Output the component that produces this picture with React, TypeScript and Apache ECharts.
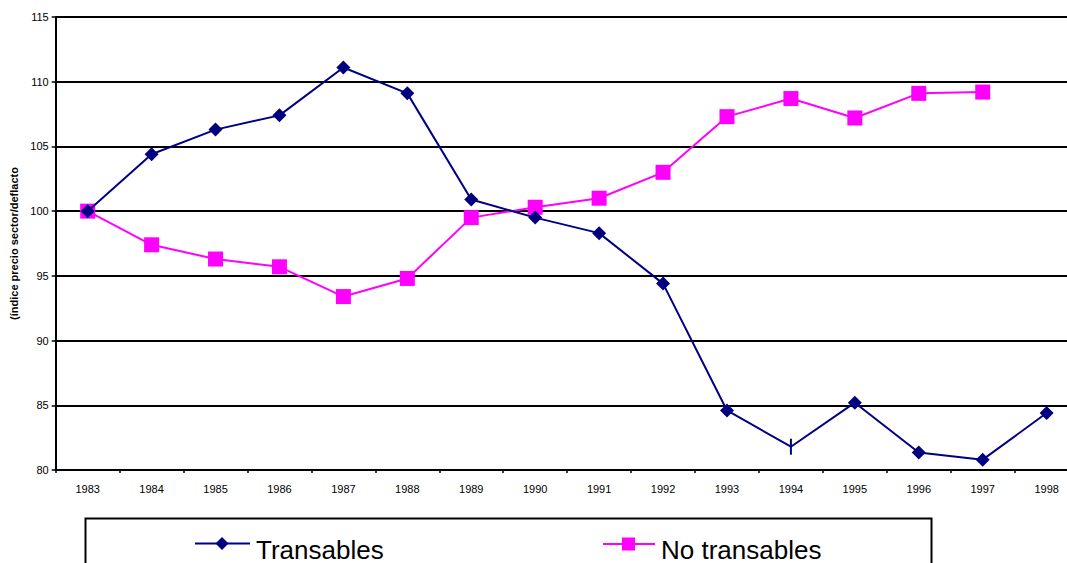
import React, { useEffect, useRef } from "react";
import * as echarts from "echarts";

const years = ["1983","1984","1985","1986","1987","1988","1989","1990","1991","1992","1993","1994","1995","1996","1997","1998"];
const transables = [100, 104.4, 106.3, 107.4, 111.1, 109.1, 100.9, 99.5, 98.3, 94.4, 84.6, 81.8, 85.2, 81.35, 80.8, 84.4];
const noTransables: (number | null)[] = [100, 97.4, 96.3, 95.7, 93.4, 94.8, 99.5, 100.3, 101.0, 103.0, 107.3, 108.7, 107.2, 109.1, 109.2, null];
const seriesNames = ["Transables", "No transables"];
const yTitle = "(índice precio sector/deflacto";

const NAVY = "#000080";
const MAGENTA = "#FF00FF";

export default function App() {
  const ref = useRef<HTMLDivElement>(null);
  useEffect(() => {
    const chart = echarts.init(ref.current!, null, { renderer: "svg" });
    const font = "'Liberation Sans', Arial, sans-serif";
    const legendFont = { fontSize: 26, fontFamily: font, fill: "#000" };
    chart.setOption({
      animation: false,
      backgroundColor: "#ffffff",
      textStyle: { fontFamily: font },
      grid: { left: 55.7, top: 17, width: 1022.9, height: 453, containLabel: false, outerBoundsMode: "none" },
      graphic: [
        { type: "rect", shape: { x: 85.5, y: 518.5, width: 846, height: 80 }, style: { fill: "none", stroke: "#000", lineWidth: 2 }, silent: true },
        { type: "line", shape: { x1: 195, y1: 543.5, x2: 250, y2: 543.5 }, style: { stroke: NAVY, lineWidth: 2 }, silent: true },
        { type: "polygon", shape: { points: [[222, 537], [228.5, 543.5], [222, 550], [215.5, 543.5]] }, style: { fill: NAVY }, silent: true },
        { type: "text", x: 256, y: 550, style: { text: seriesNames[0], ...legendFont, verticalAlign: "middle", align: "left" }, silent: true },
        { type: "line", shape: { x1: 603, y1: 544, x2: 655, y2: 544 }, style: { stroke: MAGENTA, lineWidth: 2 }, silent: true },
        { type: "rect", shape: { x: 622, y: 537.5, width: 13, height: 13 }, style: { fill: MAGENTA }, silent: true },
        { type: "text", x: 661, y: 550, style: { text: seriesNames[1], ...legendFont, verticalAlign: "middle", align: "left" }, silent: true },
      ],
      xAxis: {
        type: "category",
        data: years,
        boundaryGap: true,
        axisLine: { lineStyle: { color: "#000", width: 2 } },
        axisTick: { show: true, interval: 0, length: 3, lineStyle: { color: "#000", width: 1.5 } },
        axisLabel: { color: "#000", fontSize: 11, margin: 13, interval: 0, fontFamily: font },
        splitLine: { show: false },
      },
      yAxis: {
        type: "value",
        min: 80, max: 115, interval: 5,
        name: yTitle,
        nameLocation: "middle",
        nameGap: 36,
        nameTextStyle: { fontSize: 11, fontWeight: "bold", color: "#000", fontFamily: font },
        axisLine: { show: true, lineStyle: { color: "#000", width: 2 } },
        axisTick: { show: true, length: 4, lineStyle: { color: "#000", width: 1.5 } },
        axisLabel: { color: "#000", fontSize: 11, margin: 7, fontFamily: font },
        splitLine: { show: true, lineStyle: { color: "#000", width: 2 } },
      },
      series: [
        {
          name: seriesNames[0],
          type: "line",
          data: transables.map((v, i) => (i === 11 ? { value: v, symbol: "rect", symbolSize: [2, 16] } : v)),
          symbol: "diamond",
          symbolSize: 14,
          color: NAVY,
          lineStyle: { color: NAVY, width: 2 },
          itemStyle: { color: NAVY },
          z: 3,
        },
        {
          name: seriesNames[1],
          type: "line",
          data: noTransables,
          symbol: "rect",
          symbolSize: 15,
          color: MAGENTA,
          lineStyle: { color: MAGENTA, width: 2 },
          itemStyle: { color: MAGENTA },
          z: 2,
        },
      ],
    });
    return () => chart.dispose();
  }, []);
  return (
    <div
      ref={ref}
      style={{ position: "absolute", left: 0, top: 0, width: 1067, height: 563, background: "#fff" }}
    />
  );
}
